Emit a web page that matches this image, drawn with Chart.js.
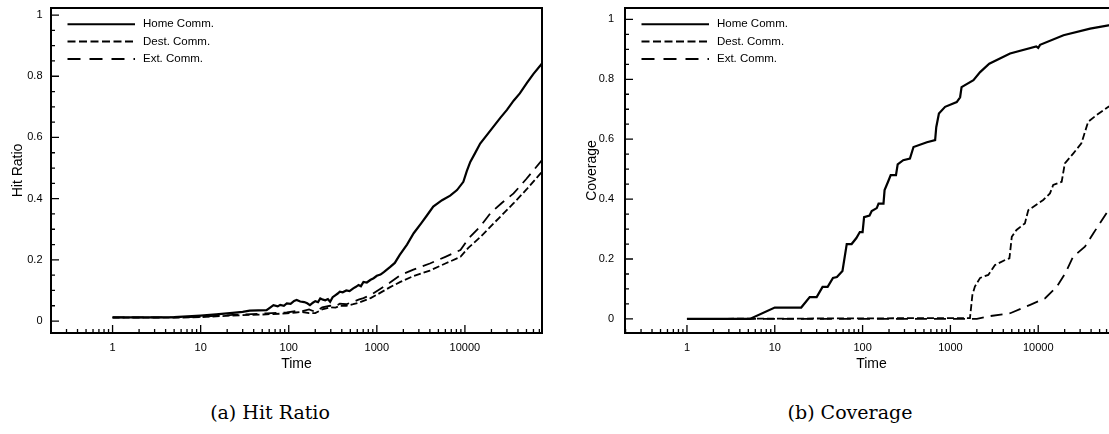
<!DOCTYPE html>
<html>
<head>
<meta charset="utf-8">
<script src="https://cdn.jsdelivr.net/npm/chart.js@4.4.1/dist/chart.umd.min.js"></script>
<style>
body { margin:0; background:#fff; width:1109px; height:434px; overflow:hidden; position:relative; }
.panel { position:absolute; top:0; height:380px; overflow:hidden; }
.caption { position:absolute; top:401px; width:260px; line-height:22px; text-align:center; font-family:"DejaVu Serif", serif; font-size:19px; color:#000; }
</style>
</head>
<body>
<div class="panel" style="left:0;width:560px"><canvas id="hitChart" width="560" height="380"></canvas></div>
<div class="panel" style="left:560px;width:549px"><canvas id="covChart" width="570" height="380"></canvas></div>
<div class="caption" style="left:140px">(a) Hit Ratio</div>
<div class="caption" style="left:720px">(b) Coverage</div>
<script>
// labels and ticks
var seriesNames = ['Home Comm.', 'Dest. Comm.', 'Ext. Comm.'];
var timeTicks = [1, 10, 100, 1000, 10000];
var ratioTicks = [0, 0.2, 0.4, 0.6, 0.8, 1];

// (a) hit ratio
var hitHomeT = [1, 3, 5, 10, 15, 23, 30, 36, 45, 56, 62, 67, 75, 80, 88, 95, 105, 115, 123, 135, 150, 162, 174, 188, 200, 215, 228, 245, 260, 278, 295, 315, 340, 360, 380, 410, 450, 490, 540, 580, 620, 660, 705, 770, 850, 920, 1000, 1100, 1200, 1300, 1420, 1600, 1820, 2200, 2620, 3200, 3700, 4370, 5500, 6800, 8130, 9600, 10500, 11500, 13000, 14900, 18000, 25200, 30000, 35700, 42000, 50600, 60000, 75000];
var hitHomeV = [0.012, 0.012, 0.013, 0.018, 0.022, 0.027, 0.03, 0.034, 0.035, 0.036, 0.045, 0.052, 0.048, 0.053, 0.05, 0.058, 0.056, 0.066, 0.069, 0.064, 0.062, 0.058, 0.052, 0.06, 0.065, 0.062, 0.074, 0.07, 0.068, 0.072, 0.063, 0.078, 0.085, 0.09, 0.096, 0.094, 0.1, 0.098, 0.107, 0.112, 0.118, 0.114, 0.128, 0.126, 0.135, 0.14, 0.148, 0.152, 0.16, 0.168, 0.177, 0.19, 0.216, 0.25, 0.287, 0.32, 0.345, 0.374, 0.395, 0.41, 0.428, 0.455, 0.49, 0.52, 0.548, 0.58, 0.61, 0.664, 0.69, 0.72, 0.744, 0.778, 0.808, 0.842];
var hitDestT = [1, 5, 10, 23, 56, 95, 120, 140, 170, 200, 240, 295, 340, 380, 450, 540, 620, 705, 850, 1090, 1400, 1850, 2600, 4000, 6000, 8900, 11000, 15000, 19400, 26000, 35700, 50000, 75000];
var hitDestV = [0.011, 0.011, 0.013, 0.018, 0.022, 0.025, 0.028, 0.03, 0.026, 0.026, 0.038, 0.045, 0.044, 0.05, 0.05, 0.055, 0.06, 0.066, 0.075, 0.092, 0.11, 0.128, 0.147, 0.165, 0.188, 0.21, 0.24, 0.275, 0.308, 0.345, 0.385, 0.43, 0.488];
var hitExtT = [1, 5, 10, 23, 56, 95, 120, 140, 170, 200, 240, 295, 340, 380, 450, 540, 620, 705, 850, 1090, 1400, 1850, 2600, 4000, 6000, 8900, 11000, 15000, 19400, 26000, 35700, 50000, 75000];
var hitExtV = [0.012, 0.012, 0.014, 0.02, 0.025, 0.028, 0.033, 0.032, 0.038, 0.03, 0.045, 0.05, 0.048, 0.057, 0.055, 0.063, 0.07, 0.075, 0.085, 0.105, 0.125, 0.15, 0.168, 0.188, 0.21, 0.232, 0.27, 0.31, 0.352, 0.385, 0.417, 0.465, 0.526];

// (b) coverage
var covHomeT = [1, 5.2, 10, 20, 25, 30, 35, 40, 46, 51, 59, 66, 75, 85, 93, 100, 104, 120, 127, 145, 152, 173, 178, 195, 209, 240, 251, 290, 346, 380, 540, 670, 690, 740, 870, 1180, 1290, 1340, 1830, 2180, 2770, 4780, 9500, 10000, 10500, 19400, 39000, 63000, 78000];
var covHomeV = [0, 0, 0.038, 0.038, 0.073, 0.073, 0.107, 0.107, 0.137, 0.14, 0.16, 0.25, 0.25, 0.27, 0.29, 0.29, 0.34, 0.345, 0.36, 0.37, 0.385, 0.385, 0.43, 0.458, 0.48, 0.48, 0.516, 0.53, 0.535, 0.574, 0.59, 0.597, 0.64, 0.686, 0.708, 0.724, 0.74, 0.774, 0.797, 0.824, 0.852, 0.886, 0.91, 0.905, 0.915, 0.947, 0.969, 0.98, 0.983];
var covDestT = [1, 1670, 1780, 1900, 2180, 2700, 3220, 4200, 4700, 5000, 5660, 7050, 7700, 11400, 13600, 14800, 18500, 20100, 25000, 31000, 37000, 46000, 63000, 78000];
var covDestV = [0, 0.003, 0.08, 0.108, 0.137, 0.147, 0.18, 0.197, 0.202, 0.274, 0.297, 0.319, 0.363, 0.397, 0.419, 0.447, 0.458, 0.519, 0.552, 0.586, 0.658, 0.68, 0.708, 0.72];
var covExtT = [1, 2000, 2600, 4800, 8100, 12000, 16300, 20300, 25000, 34000, 42500, 63000, 78000];
var covExtV = [0, 0, 0.008, 0.019, 0.047, 0.069, 0.108, 0.152, 0.208, 0.241, 0.286, 0.363, 0.40];

function pairs(t, v) {
	var out = [];
	for (var i = 0; i < t.length; i++) out.push({x: t[i], y: v[i]});
	return out;
}

// ticks inside the box, frame and legend drawn by hand
const axisDecor = {
	id: 'axisDecor',
	afterDraw(chart, args, opts) {
		const ctx = chart.ctx, a = chart.chartArea;
		const xs = chart.scales.x, ys = chart.scales.y;
		ctx.save();
		ctx.strokeStyle = '#000';
		ctx.lineWidth = 1.3;
		ctx.beginPath();
		for (var d = -1; d <= 4; d++) {
			for (var k = 1; k <= 9; k++) {
				var v = k * Math.pow(10, d);
				if (v <= xs.min || v >= xs.max) continue;
				var px = xs.getPixelForValue(v);
				var len = (k === 1) ? 8 : 4;
				ctx.moveTo(px, a.bottom);
				ctx.lineTo(px, a.bottom - len);
			}
		}
		for (var i = 0; i <= 20; i++) {
			var py = ys.getPixelForValue(i * 0.05);
			var ylen = (i % 4 === 0) ? 8 : 4;
			ctx.moveTo(a.left, py);
			ctx.lineTo(a.left + ylen, py);
		}
		ctx.stroke();

		ctx.lineWidth = 2;
		ctx.strokeRect(a.left, a.top, a.right - a.left, a.bottom - a.top);

		// legend
		ctx.font = '11.5px "Liberation Sans", Arial, sans-serif';
		ctx.fillStyle = '#000';
		ctx.textBaseline = 'middle';
		chart.data.datasets.forEach(function(ds, j) {
			var y = a.top + 16.3 + j * 17.3;
			ctx.lineWidth = 2;
			ctx.setLineDash(ds.keyDash);
			ctx.beginPath();
			ctx.moveTo(a.left + opts.x0, y);
			ctx.lineTo(a.left + opts.x1, y);
			ctx.stroke();
			ctx.setLineDash([]);
			ctx.fillText(ds.label, a.left + opts.tx, y);
		});
		ctx.restore();
	}
};

function makeChart(id, data, yTitle, yMin, yMax, xMin, xMax, padLeft, padRight, yPad) {
	const config = {
		type: 'line',
		data: {
			datasets: [
				{ label: seriesNames[0], data: data[0], borderColor: '#000', borderWidth: 2.2, borderDash: [], keyDash: [] },
				{ label: seriesNames[1], data: data[1], borderColor: '#000', borderWidth: 1.8, borderDash: [7, 3], keyDash: [8, 3.5] },
				{ label: seriesNames[2], data: data[2], borderColor: '#000', borderWidth: 1.8, borderDash: [12, 7], keyDash: [13, 9] }
			]
		},
		options: {
			responsive: false,
			animation: false,
			elements: { point: { radius: 0 }, line: { tension: 0 } },
			layout: { padding: { top: 8, left: padLeft, right: padRight, bottom: 7 } },
			plugins: {
				legend: { display: false },
				tooltip: { enabled: false },
				axisDecor: { x0: 16.5, x1: 84, tx: 92 }
			},
			scales: {
				x: {
					type: 'logarithmic',
					min: xMin,
					max: xMax,
					grid: { display: false, drawTicks: false, tickLength: 0 },
					border: { display: false },
					afterBuildTicks: function(s) { s.ticks = timeTicks.map(function(v) { return {value: v}; }); },
					afterFit: function(s) { s.height = 40; s.paddingLeft = 0; s.paddingRight = 0; },
					ticks: {
						autoSkip: false, maxRotation: 0, padding: 8, color: '#000',
						font: { family: '"Liberation Sans", Arial, sans-serif', size: 11 },
						callback: function(v) { return String(v); }
					},
					title: {
						display: true, text: 'Time', color: '#000', padding: { top: 0, bottom: 0 },
						font: { family: '"Liberation Sans", Arial, sans-serif', size: 14 }
					}
				}, //end of x-axis
				y: {
					min: yMin,
					max: yMax,
					grid: { display: false, drawTicks: false, tickLength: 0 },
					border: { display: false },
					afterBuildTicks: function(s) { s.ticks = ratioTicks.map(function(v) { return {value: v}; }); },
					afterFit: function(s) { s.width = 51; s.paddingTop = 0; s.paddingBottom = 0; },
					ticks: {
						padding: yPad, color: '#000',
						font: { family: '"Liberation Sans", Arial, sans-serif', size: 11 },
						callback: function(v) { return String(+v.toFixed(1)); }
					},
					title: {
						display: true, text: yTitle, color: '#000', padding: { top: 9.6, bottom: 0 },
						font: { family: '"Liberation Sans", Arial, sans-serif', size: 14 }
					}
				}
			} //end of scales
		}, //end of options
		plugins: [axisDecor]
	}; //end of config
	return new Chart(document.getElementById(id), config);
}

makeChart('hitChart',
	[pairs(hitHomeT, hitHomeV), pairs(hitDestT, hitDestV), pairs(hitExtT, hitExtV)],
	'Hit Ratio', -0.039, 1.023, 0.2, 75000, 0, 18, 8.5);

makeChart('covChart',
	[pairs(covHomeT, covHomeV), pairs(covDestT, covDestV), pairs(covExtT, covExtV)],
	'Coverage', -0.047, 1.038, 0.197, 81000, 14, 12, 11);
</script>
</body>
</html>
